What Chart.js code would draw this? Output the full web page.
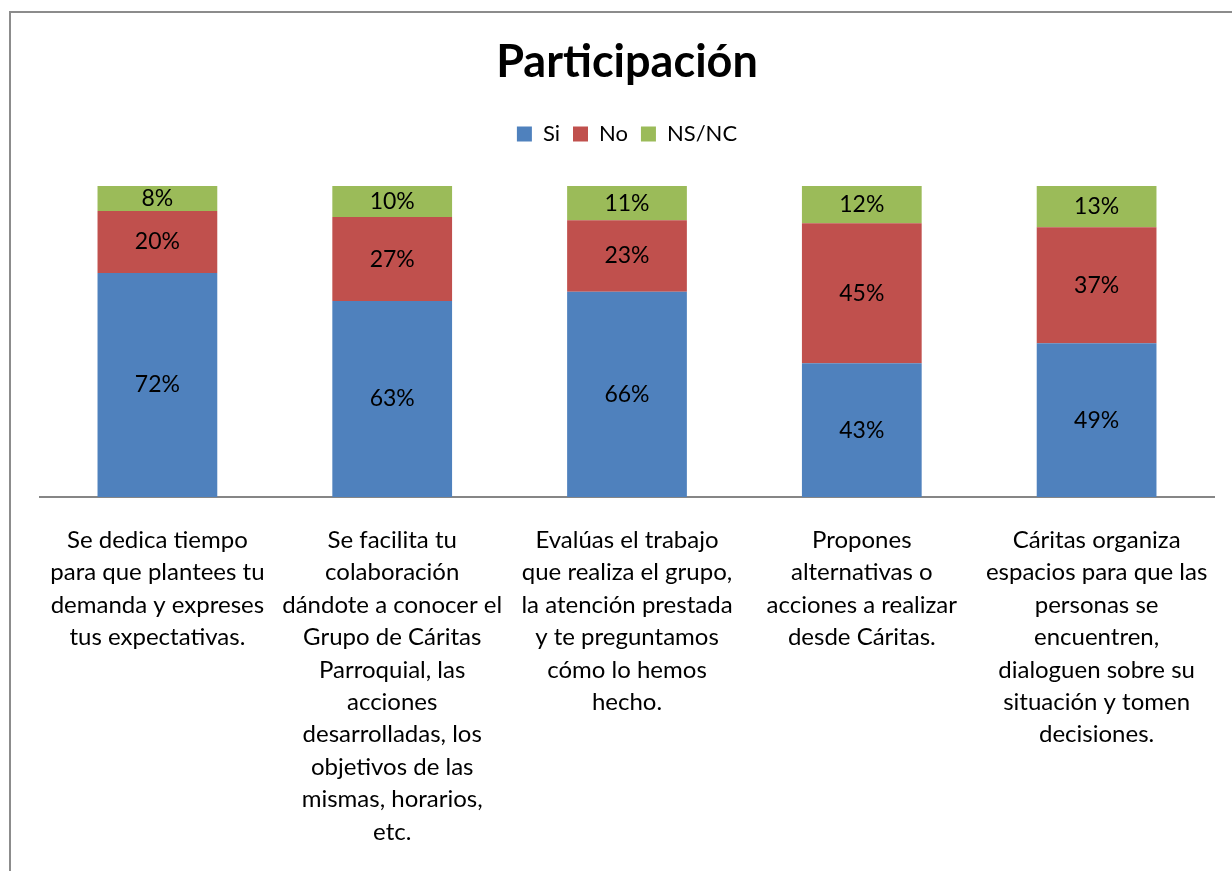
<!DOCTYPE html>
<html>
<head>
<meta charset="utf-8">
<script src="https://cdn.jsdelivr.net/npm/chart.js@4"></script>
<style>
  html, body { margin: 0; padding: 0; background: #fff; }
  #wrap { width: 1232px; height: 871px; position: relative; }
</style>
</head>
<body>
<div id="wrap"><canvas id="grafico"></canvas></div>
<script>
// categorías (etiquetas del eje X, en varias líneas)
const categorias = [
    ['Se dedica tiempo', 'para que plantees tu', 'demanda y expreses', 'tus expectativas.'],
    ['Se facilita tu', 'colaboración', 'dándote a conocer el', 'Grupo de Cáritas', 'Parroquial, las', 'acciones', 'desarrolladas, los', 'objetivos de las', 'mismas, horarios,', 'etc.'],
    ['Evalúas el trabajo', 'que realiza el grupo,', 'la atención prestada', 'y te preguntamos', 'cómo lo hemos', 'hecho.'],
    ['Propones', 'alternativas o', 'acciones a realizar', 'desde Cáritas.'],
    ['Cáritas organiza', 'espacios para que las', 'personas se', 'encuentren,', 'dialoguen sobre su', 'situación y tomen', 'decisiones.']
];

// porcentajes por respuesta
const valoresSi = [72, 63, 66, 43, 49.4];
const valoresNo = [20, 27, 23, 45, 37.3];
const valoresNsNc = [8, 10, 11, 12, 13.3];

const fuente = 'Lato, "Open Sans", sans-serif';

// marco gris del gráfico (solo borde superior e izquierdo visibles)
const marco = {
    id: 'marco',
    beforeDraw(chart) {
        const ctx = chart.ctx;
        ctx.save();
        ctx.strokeStyle = '#8c8c8c';
        ctx.lineWidth = 2;
        ctx.beginPath();
        ctx.moveTo(10, 871);
        ctx.lineTo(10, 12);
        ctx.lineTo(1232, 12);
        ctx.stroke();
        ctx.restore();
    }
};

// más espacio debajo de la leyenda
const espacioLeyenda = {
    id: 'espacioLeyenda',
    beforeInit(chart) {
        const fitOriginal = chart.legend.fit;
        chart.legend.fit = function () {
            fitOriginal.call(this);
            this.height += 31;
        };
    }
};

// etiquetas de valor en el centro de cada segmento
const etiquetas = {
    id: 'etiquetas',
    afterDatasetsDraw(chart) {
        const ctx = chart.ctx;
        ctx.save();
        ctx.font = '23px ' + fuente;
        ctx.fillStyle = '#000';
        ctx.textAlign = 'center';
        ctx.textBaseline = 'middle';
        chart.data.datasets.forEach((ds, i) => {
            chart.getDatasetMeta(i).data.forEach((bar, j) => {
                const y = (bar.y + bar.base) / 2;
                ctx.fillText(Math.round(ds.data[j]) + '%', bar.x, y);
            });
        });
        ctx.restore();
    }
};

new Chart(document.getElementById('grafico'), {
    type: 'bar',
    data: {
        labels: categorias,
        datasets: [
            { label: 'Si', data: valoresSi, backgroundColor: '#4f81bd' },
            { label: 'No', data: valoresNo, backgroundColor: '#c0504d' },
            { label: 'NS/NC', data: valoresNsNc, backgroundColor: '#9bbb59' }
        ]
    },
    options: {
        responsive: true,
        maintainAspectRatio: false,
        animation: false,
        categoryPercentage: 1,
        barPercentage: 0.51,
        layout: { padding: { left: 40, right: 18, top: 0, bottom: 0 } },
        plugins: {
            title: {
                display: true,
                text: 'Participación',
                color: '#000',
                font: { family: fuente, size: 45, weight: 'bold', lineHeight: 1.2 },
                padding: { top: 35, bottom: 21 }
            },
            legend: {
                display: true,
                position: 'top',
                labels: {
                    color: '#000',
                    font: { family: fuente, size: 22 },
                    boxWidth: 15,
                    boxHeight: 15,
                    padding: 13
                }
            },
            tooltip: { enabled: false }
        },
        scales: {
            x: {
                stacked: true,
                grid: { display: false },
                border: { display: true, color: '#868686', width: 2 },
                ticks: {
                    color: '#000',
                    font: { family: fuente, size: 24, lineHeight: 1.35 },
                    maxRotation: 0,
                    autoSkip: false,
                    padding: 19
                },
                afterFit(scale) {
                    scale.height = 374;
                }
            },
            y: {
                stacked: true,
                display: false,
                min: 0,
                max: 100
            }
        }
    },
    plugins: [marco, espacioLeyenda, etiquetas]
});
</script>
</body>
</html>
